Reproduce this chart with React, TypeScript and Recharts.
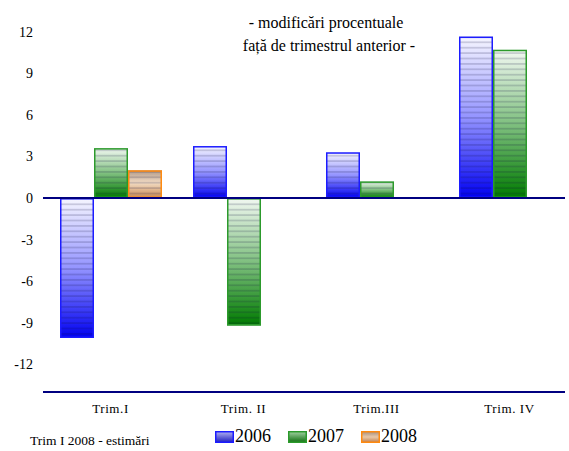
import React from 'react';
import { BarChart, Bar, XAxis, YAxis, ReferenceLine } from 'recharts';

const categories = ['Trim.I', 'Trim. II', 'Trim.III', 'Trim. IV'];
const values2006 = [-10.1, 3.75, 3.3, 11.65];
const values2007 = [3.6, -9.2, 1.2, 10.7];
const values2008: (number | null)[] = [2.0, null, null, null];
const yTicks = [-12, -9, -6, -3, 0, 3, 6, 9, 12];

const data = categories.map((name, i) => ({
  name,
  s2006: values2006[i],
  s2007: values2007[i],
  s2008: values2008[i],
}));

const SERIES = [
  { key: 's2006', label: '2006', id: 'blue', border: '#1c1cff' },
  { key: 's2007', label: '2007', id: 'green', border: '#2c9a2c' },
  { key: 's2008', label: '2008', id: 'orange', border: '#ff8a10' },
];

const NAVY = '#000080';
const FONT = '"Liberation Serif", "Times New Roman", serif';

// bar with gradient + horizontal stripes, like the original
const StripedBar = (props: any) => {
  let { x, y, width, height, value, id, border } = props;
  if (value == null || !height) return null;
  if (height < 0) {
    y += height;
    height = -height;
  }
  return (
    <g>
      <rect x={x} y={y} width={width} height={height} fill={`url(#grad-${id})`} />
      <rect x={x} y={y} width={width} height={height} fill="url(#stripes)" />
      <rect x={x + 0.75} y={y + 0.75} width={width - 1.5} height={height - 1.5} fill="none" stroke={border} strokeWidth={1.5} />
    </g>
  );
};

// navy line, trimmed on the right like the source
const NavyLine = (props: any) => (
  <line x1={props.x1 - 1} y1={props.y1} x2={props.x2 - 11} y2={props.y2} stroke={NAVY} strokeWidth={2.2} />
);

const LegendSwatch = ({ id, border }: { id: string; border: string }) => (
  <svg width={19} height={12} style={{ display: 'block' }}>
    <defs>
      <linearGradient id={`lg-${id}`} x1="0" y1="0" x2="0" y2="1">
        {id === 'blue' && <><stop offset="0" stopColor="#b0b0f0" /><stop offset="1" stopColor="#2020c0" /></>}
        {id === 'green' && <><stop offset="0" stopColor="#a0d0a0" /><stop offset="1" stopColor="#107010" /></>}
        {id === 'orange' && <><stop offset="0" stopColor="#a89080" /><stop offset="0.5" stopColor="#e8c8a8" /><stop offset="1" stopColor="#c08050" /></>}
      </linearGradient>
    </defs>
    <rect x={0.75} y={0.75} width={17.5} height={10.5} fill={`url(#lg-${id})`} stroke={border} strokeWidth={1.5} />
  </svg>
);

export default function App() {
  return (
    <div style={{ position: 'absolute', left: 0, top: 0, width: 569, height: 451, overflow: 'hidden', background: '#fff', fontFamily: FONT }}>
      <BarChart
        width={577}
        height={451}
        data={data}
        margin={{ top: 4, right: 1, left: 0, bottom: 29 }}
        barSize={34}
        barGap={0}
      >
        <defs>
          <linearGradient id="grad-blue" x1="0" y1="0" x2="0" y2="1">
            <stop offset="0" stopColor="#f6f6ff" />
            <stop offset="0.5" stopColor="#9494ff" />
            <stop offset="1" stopColor="#0000f0" />
          </linearGradient>
          <linearGradient id="grad-green" x1="0" y1="0" x2="0" y2="1">
            <stop offset="0" stopColor="#f2f8f2" />
            <stop offset="0.5" stopColor="#80c080" />
            <stop offset="1" stopColor="#007a00" />
          </linearGradient>
          <linearGradient id="grad-orange" x1="0" y1="0" x2="0" y2="1">
            <stop offset="0" stopColor="#b09888" />
            <stop offset="0.45" stopColor="#f2dcc4" />
            <stop offset="1" stopColor="#c88850" />
          </linearGradient>
          <pattern id="stripes" patternUnits="userSpaceOnUse" width={6} height={5.4}>
            <rect x={0} y={4} width={6} height={1} fill="rgba(10,10,60,0.3)" />
          </pattern>
        </defs>
        <XAxis
          dataKey="name"
          axisLine={false}
          tickLine={false}
          tickSize={0}
          tickMargin={12}
          height={30}
          tick={{ fill: '#000', fontSize: 13, fontFamily: FONT, letterSpacing: 0.6 }}
        />
        <YAxis
          domain={[-14, 14]}
          ticks={yTicks}
          interval={0}
          axisLine={false}
          tickLine={false}
          tickSize={0}
          tickMargin={11}
          width={44}
          tick={{ fill: '#000', fontSize: 14, fontFamily: FONT }}
        />
        {SERIES.map((s) => (
          <Bar
            key={s.key}
            dataKey={s.key}
            isAnimationActive={false}
            shape={(p: any) => <StripedBar {...p} id={s.id} border={s.border} />}
          />
        ))}
        <ReferenceLine y={0} shape={NavyLine} />
        <ReferenceLine y={-14} shape={NavyLine} />
      </BarChart>

      <div style={{ position: 'absolute', left: 226, top: 11, width: 200, textAlign: 'center', fontSize: 16, lineHeight: '23px', color: '#000' }}>
        <div>- modificări procentuale</div>
        <div style={{ marginLeft: 6 }}>față de trimestrul anterior -</div>
      </div>

      <div style={{ position: 'absolute', left: 30, top: 433, fontSize: 13.5, color: '#000', whiteSpace: 'nowrap' }}>
        Trim I 2008 - estimări
      </div>

      <div style={{ position: 'absolute', left: 215, top: 426, display: 'flex', alignItems: 'center', fontSize: 18, color: '#000' }}>
        {SERIES.map((s) => (
          <div key={s.key} style={{ display: 'flex', alignItems: 'center', width: 73 }}>
            <LegendSwatch id={s.id} border={s.border} />
            <span style={{ marginLeft: 1 }}>{s.label}</span>
          </div>
        ))}
      </div>
    </div>
  );
}
